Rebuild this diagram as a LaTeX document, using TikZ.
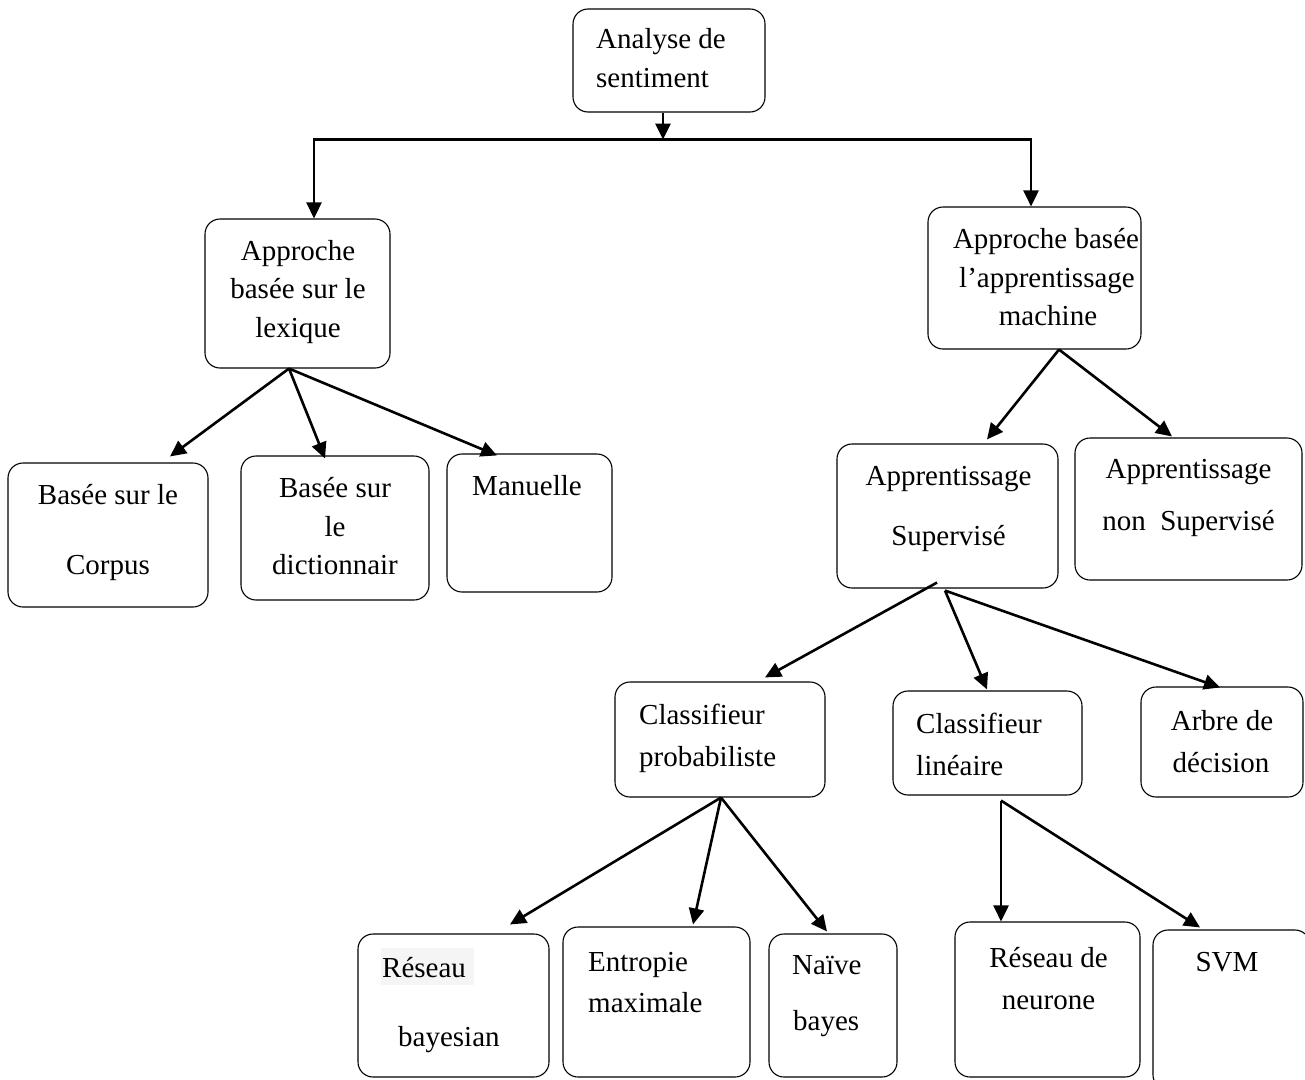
\documentclass[tikz,border=0pt]{standalone}
\usepackage{fontspec}
\setmainfont{Liberation Serif}
\usetikzlibrary{arrows.meta,calc}

\begin{document}
\begin{tikzpicture}[x=1pt,y=-1pt,
  box/.style={draw=black,line width=1.1pt,rounded corners=15pt,inner sep=0pt},
  txt/.style={inner sep=0pt,font=\fontsize{29}{34}\selectfont},
  arr/.style={line width=2.6pt,-{Triangle[length=16pt,width=15pt]}},
  link/.style={line width=2.6pt}]
\clip (0,0) rectangle (1305,1079);
\fill[white] (0,0) rectangle (1305,1079);

% boxes
\node[box,minimum width=192pt,minimum height=103pt] (root) at (669,60.5) {};
\node[box,minimum width=185pt,minimum height=149pt] (lex) at (297.5,293.5) {};
\node[box,minimum width=213pt,minimum height=142pt] (ml) at (1034.5,278) {};
\node[box,minimum width=200pt,minimum height=144pt] (corpus) at (108,535) {};
\node[box,minimum width=188pt,minimum height=144pt] (dict) at (335,528) {};
\node[box,minimum width=165pt,minimum height=138pt] (man) at (529.5,523) {};
\node[box,minimum width=221pt,minimum height=144pt] (sup) at (947.5,516) {};
\node[box,minimum width=227pt,minimum height=142pt] (nonsup) at (1188.5,509) {};
\node[box,minimum width=210pt,minimum height=115pt] (prob) at (720,739.5) {};
\node[box,minimum width=189pt,minimum height=104pt] (lin) at (987.5,743) {};
\node[box,minimum width=162pt,minimum height=110pt] (arbre) at (1222,742) {};
\node[box,minimum width=191pt,minimum height=143pt] (rb) at (453.5,1005.5) {};
\node[box,minimum width=187pt,minimum height=150pt] (ent) at (656.5,1002) {};
\node[box,minimum width=128pt,minimum height=143pt] (nb) at (833,1005.5) {};
\node[box,minimum width=185pt,minimum height=155pt] (rn) at (1047.5,999.5) {};
\node[box,minimum width=157pt,minimum height=160pt] (svm) at (1231.5,1010) {};

% labels
\node[txt,anchor=base west] (t-root-a) at (596,48) {Analyse de};
\node[txt,anchor=base west] (t-root-b) at (596,87) {sentiment};
\node[txt,anchor=base] (t-lex-a) at (298,260) {Approche};
\node[txt,anchor=base] (t-lex-b) at (298,298) {basée sur le};
\node[txt,anchor=base] (t-lex-c) at (298,337) {lexique};
\node[txt,anchor=base] (t-ml-a) at (1046,248) {Approche basée};
\node[txt,anchor=base] (t-ml-b) at (1047,287) {l’apprentissage};
\node[txt,anchor=base] (t-ml-c) at (1048,325) {machine};
\node[txt,anchor=base] (t-corpus-a) at (108,504) {Basée sur le};
\node[txt,anchor=base] (t-corpus-b) at (108,574) {Corpus};
\node[txt,anchor=base] (t-dict-a) at (335,497) {Basée sur};
\node[txt,anchor=base] (t-dict-b) at (335,536) {le};
\node[txt,anchor=base] (t-dict-c) at (335,574) {dictionnair};
\node[txt,anchor=base] (t-man) at (527,495) {Manuelle};
\node[txt,anchor=base] (t-sup-a) at (948.5,485) {Apprentissage};
\node[txt,anchor=base] (t-sup-b) at (948.5,545) {Supervisé};
\node[txt,anchor=base] (t-nonsup-a) at (1188.5,478) {Apprentissage};
\node[txt,anchor=base] (t-nonsup-b) at (1188.5,530) {non\ \ Supervisé};
\node[txt,anchor=base west] (t-prob-a) at (639,724) {Classifieur};
\node[txt,anchor=base west] (t-prob-b) at (639,766) {probabiliste};
\node[txt,anchor=base west] (t-lin-a) at (916,733) {Classifieur};
\node[txt,anchor=base west] (t-lin-b) at (916,775) {linéaire};
\node[txt,anchor=base] (t-arbre-a) at (1222,730) {Arbre de};
\node[txt,anchor=base] (t-arbre-b) at (1221,772) {décision};
\fill[black!4] (381,948) rectangle (474,985);
\node[txt,anchor=base west] (t-rb-a) at (382,977) {Réseau};
\node[txt,anchor=base west] (t-rb-b) at (398,1046) {bayesian};
\node[txt,anchor=base west] (t-ent-a) at (588,971) {Entropie};
\node[txt,anchor=base west] (t-ent-b) at (588,1012) {maximale};
\node[txt,anchor=base west] (t-nb-a) at (792,974) {Naïve};
\node[txt,anchor=base west] (t-nb-b) at (793,1030) {bayes};
\node[txt,anchor=base] (t-rn-a) at (1048.5,967) {Réseau de};
\node[txt,anchor=base] (t-rn-b) at (1048.5,1009) {neurone};
\node[txt,anchor=base] (t-svm) at (1227,971) {SVM};

% root split
\coordinate (split) at ($(root.south)+(-6,27)$);
\draw[arr] ($(root.south)+(-6,0)$) -- (split);
\draw[arr] (split) -| ($(lex.north)+(16.5,0)$);
\draw[arr] (split) -| ($(ml.north)+(-3.5,0)$);

% lexicon branch
\coordinate (lexout) at ($(lex.south)+(-8.5,0)$);
\draw[arr] (lexout) -- ($(corpus.north)+(62,-6)$);
\draw[arr] (lexout) -- ($(dict.north)+(-10,3)$);
\draw[arr] (lexout) -- ($(man.north)+(-32.5,2)$);

% machine learning branch
\coordinate (mlout) at ($(ml.south)+(24.5,0)$);
\draw[arr] (mlout) -- ($(sup.north)+(39.5,-4)$);
\draw[arr] (mlout) -- ($(nonsup.north)+(-16.5,-1)$);

% supervised branch
\draw[arr] ($(sup.south)+(-10.5,-6)$) -- ($(prob.north)+(45,-4)$);
\coordinate (supout) at ($(sup.south)+(-2.5,2)$);
\draw[arr] (supout) -- ($(lin.north)+(-0.5,-1)$);
\draw[arr] (supout) -- ($(arbre.north)+(-2,1)$);

% probabilistic classifiers
\coordinate (probout) at ($(prob.south)+(1,0)$);
\draw[arr] (probout) -- ($(rb.north)+(56.5,-9)$);
\draw[arr] (probout) -- ($(ent.north)+(36.5,-2)$);
\draw[arr] (probout) -- ($(nb.north)+(-6,-2)$);

% linear classifiers
\coordinate (linout) at ($(lin.south)+(13.5,5)$);
\draw[arr] (linout) -- ($(rn.north)+(-46.5,0)$);
\draw[arr] (linout) -- ($(svm.north)+(-31.5,-2)$);
\end{tikzpicture}
\end{document}
